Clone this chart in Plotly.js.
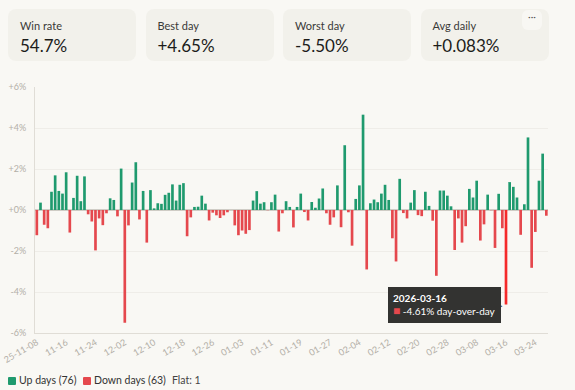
<!DOCTYPE html>
<html>
<head>
<meta charset="utf-8">
<script src="https://cdn.plot.ly/plotly-3.0.1.min.js"></script>
<style>
  html, body { margin:0; padding:0; background:#f9f8f4; width:575px; height:390px; overflow:hidden; font-family: Lato, "Noto Sans", sans-serif; }
  #chart { position:absolute; left:0; top:0; width:575px; height:390px; }
  .card { position:absolute; top:9px; height:52px; width:128px; background:#f2f1eb; border-radius:8px; }
  .card .lbl { position:absolute; left:12px; top:10px; font-size:11px; color:#3a3a38; }
  .card .val { position:absolute; left:12px; top:26px; font-size:17px; color:#1c1c1a; }
  .dots { position:absolute; left:522px; top:10px; width:20px; height:20px; background:#f8f7f3; border-radius:6px; font-size:10px; color:#555; text-align:center; line-height:12px; }
  .legend { position:absolute; top:374px; font-size:10.5px; color:#333; }
  .sw { position:absolute; top:377px; width:8px; height:8px; border-radius:1px; }
</style>
</head>
<body>
<div id="chart"></div>
<div id="cards"></div>
<div class="dots">···</div>
<div id="legend"></div>
<script>
// ---- data ----
const startDate = '2025-11-08';
const dailyPct = [
  -1.23, 0.36, -0.72, -0.89, 0.89, 1.69, 0.93, 0.80, 1.84, -1.10,
   0.59, 1.67, 0.43, 1.64, -0.21, -0.56, -1.97, -0.41, -0.74, -0.16,
   0.57, 0.49, -0.31, 2.02, -5.50, -0.75, 1.34, 2.33, -0.46, 0.93,
  -1.59, 0.97, 0.08, 0.33, 0.30, 0.74, 0.84, 1.25, 0.46, 1.23,
   1.31, -1.28, -0.36, 0.15, 0.16, 0.70, 0.31, -0.51, -0.13, -0.26,
  -0.39, -0.26, -0.11, 0.00, -0.75, -1.23, -1.00, -1.16, -0.98, 0.46,
   0.92, 0.31, 0.38, -0.01, 0.38, 0.75, -1.05, -0.16, 0.43, 0.15,
  -0.85, 0.15, 0.80, -0.10, -0.51, 0.39, 0.11, 0.56, 1.05, -0.16,
  -0.72, -0.36, 1.20, -0.84, 3.16, -0.11, -1.74, 0.54, 1.20, 4.65,
  -2.90, 0.33, 0.51, 0.38, 0.80, 1.23, 0.49, -1.38, -2.51, 1.52,
  -0.15, -0.41, 0.36, 0.97, -0.25, -0.30, 0.89, 0.20, -0.52, -3.21,
   0.95, 0.95, 0.70, 0.18, -1.95, -0.41, -1.59, -0.79, 1.03, 0.61,
   1.43, -1.49, -0.70, 0.75, -0.01, -1.85, 0.79, -0.89, -4.61, 1.36,
   1.13, 0.61, -1.21, 0.28, 3.54, -2.82, -1.07, 1.43, 2.75, -0.28
];
const cardLabels = ['Win rate', 'Best day', 'Worst day', 'Avg daily'];
const cardValues = ['54.7%', '+4.65%', '-5.50%', '+0.083%'];
const tickDates = ['2025-11-08','2025-11-16','2025-11-24','2025-12-02','2025-12-10','2025-12-18','2025-12-26',
  '2026-01-03','2026-01-11','2026-01-19','2026-01-27','2026-02-04','2026-02-12','2026-02-20','2026-02-28',
  '2026-03-08','2026-03-16','2026-03-24'];
const tickLabels = ['25-11-08','11-16','11-24','12-02','12-10','12-18','12-26','01-03','01-11','01-19','01-27',
  '02-04','02-12','02-20','02-28','03-08','03-16','03-24'];
const yTickVals = [-6, -4, -2, 0, 2, 4, 6];
const yTickLabels = ['-6%', '-4%', '-2%', '+0%', '+2%', '+4%', '+6%'];
const hoverDate = '2026-03-16';

// ---- build dates ----
function addDays(iso, n) {
  const d = new Date(iso + 'T00:00:00Z');
  d.setUTCDate(d.getUTCDate() + n);
  return d.toISOString().slice(0, 10);
}
const dates = dailyPct.map((_, i) => addDays(startDate, i));

const GREEN = '#1f9a6e', RED = '#e5484d', HOT = '#f52a2a';
const colors = dailyPct.map((v, i) => dates[i] === hoverDate ? HOT : (v >= 0 ? GREEN : RED));

const ups = dailyPct.filter(v => v > 0).length;
const downs = dailyPct.filter(v => v < 0).length;
const flats = dailyPct.filter(v => v === 0).length;

// cards
const cardsEl = document.getElementById('cards');
cardLabels.forEach((l, i) => {
  const c = document.createElement('div');
  c.className = 'card';
  c.style.left = (8 + i * 137.5) + 'px';
  c.innerHTML = '<div class="lbl">' + l + '</div><div class="val">' + cardValues[i] + '</div>';
  cardsEl.appendChild(c);
});
// legend
document.getElementById('legend').innerHTML =
  '<div class="sw" style="left:8px;background:' + GREEN + '"></div><div class="legend" style="left:19px">Up days (' + ups + ')</div>' +
  '<div class="sw" style="left:83px;background:' + RED + '"></div><div class="legend" style="left:94px">Down days (' + downs + ')</div>' +
  '<div class="legend" style="left:172px;color:#444">Flat: ' + flats + '</div>';

const hi = dates.indexOf(hoverDate);
const hv = dailyPct[hi];

Plotly.newPlot('chart', [{
  type: 'bar',
  x: dates,
  y: dailyPct,
  marker: { color: colors, line: { width: 0 } },
  hoverinfo: 'skip'
}], {
  width: 575, height: 390,
  margin: { l: 35, r: 27, t: 87, b: 57 },
  paper_bgcolor: 'rgba(0,0,0,0)',
  plot_bgcolor: 'rgba(0,0,0,0)',
  bargap: 0.27,
  showlegend: false,
  font: { family: 'Lato, "Noto Sans", sans-serif' },
  xaxis: {
    type: 'date',
    range: [addDays(startDate, -1) + ' 12:00', addDays(startDate, dailyPct.length - 1) + ' 11:00'],
    tickmode: 'array', tickvals: tickDates, ticktext: tickLabels,
    tickangle: -30,
    tickfont: { size: 9, color: '#b3afa7' },
    showgrid: false, showline: true, linecolor: '#e0ddd6', linewidth: 1,
    ticks: '', fixedrange: true
  },
  yaxis: {
    range: [-6, 6],
    tickmode: 'array', tickvals: yTickVals, ticktext: yTickLabels,
    tickfont: { size: 9, color: '#b3afa7' },
    gridcolor: '#efede8', gridwidth: 1,
    showline: true, linecolor: '#e0ddd6', linewidth: 1,
    zeroline: true, zerolinecolor: '#cfccc5', zerolinewidth: 1.5,
    ticks: '', ticklabelstandoff: 6, fixedrange: true
  },
  annotations: [{
    x: hoverDate, y: hv, xref: 'x', yref: 'y',
    xanchor: 'right', yanchor: 'middle', xshift: -5,
    showarrow: false, align: 'left',
    bgcolor: '#333331', bordercolor: '#333331', borderpad: 4,
    font: { size: 10, color: '#ffffff' },
    text: '<b>' + hoverDate + '</b><br><span style="color:' + RED + ';font-size:12px">■</span> ' + hv.toFixed(2) + '% day-over-day'
  }, {
    x: hoverDate, y: hv, xref: 'x', yref: 'y',
    xanchor: 'right', yanchor: 'middle', xshift: -1,
    showarrow: false, text: '▶', font: { size: 7, color: '#333331' }
  }]
}, { displayModeBar: false, staticPlot: true });
</script>
</body>
</html>
